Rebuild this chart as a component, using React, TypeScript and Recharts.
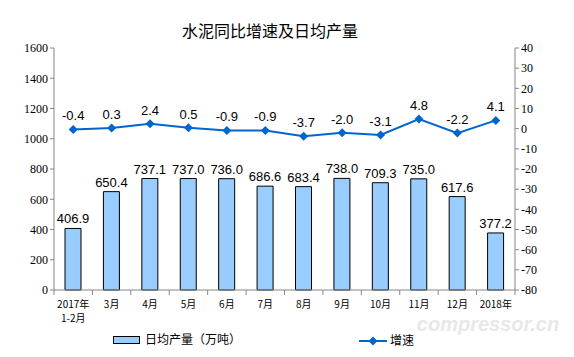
import { Bar, ComposedChart, LabelList, Line, XAxis, YAxis } from "recharts";

const categories = ["2017年\n1-2月", "3月", "4月", "5月", "6月", "7月", "8月", "9月", "10月", "11月", "12月", "2018年"];
const output = [406.9, 650.4, 737.1, 737.0, 736.0, 686.6, 683.4, 738.0, 709.3, 735.0, 617.6, 377.2];
const growth = [-0.4, 0.3, 2.4, 0.5, -0.9, -0.9, -3.7, -2.0, -3.1, 4.8, -2.2, 4.1];
const leftTicks = [0, 200, 400, 600, 800, 1000, 1200, 1400, 1600];
const rightTicks = [-80, -70, -60, -50, -40, -30, -20, -10, 0, 10, 20, 30, 40];

const data = categories.map((name, i) => ({ name, output: output[i], growth: growth[i] }));

const W = 574;
const H = 357;
const LEFT = 54;
const RIGHT = 59;
const STEP = (W - LEFT - RIGHT) / categories.length;
const AXIS = "#868686";
const serif = "'Liberation Serif', 'Times New Roman', serif";
const sans = "'Liberation Sans', Arial, sans-serif";
const cjk = "'Noto Sans CJK SC', sans-serif";

function CategoryTick(props: any) {
  const { x, y, payload, index } = props;
  const lines = String(payload.value).split("\n");
  const half = STEP / 2;
  return (
    <g>
      <line x1={x - half} x2={x - half} y1={y - 8} y2={y - 3} stroke={AXIS} />
      {index === categories.length - 1 && (
        <line x1={x + half} x2={x + half} y1={y - 8} y2={y - 3} stroke={AXIS} />
      )}
      {lines.map((l, i) => (
        <text key={i} x={x} y={y + 10 + i * 14} textAnchor="middle" fontSize={10} fontFamily={cjk} fill="#000">
          {l}
        </text>
      ))}
    </g>
  );
}

function Diamond(props: any) {
  const { cx, cy } = props;
  if (cx == null || cy == null) return null;
  const r = 4.5;
  return <path d={`M${cx},${cy - r}L${cx + r},${cy}L${cx},${cy + r}L${cx - r},${cy}Z`} fill="#0066cc" />;
}

export default function App() {
  return (
    <div style={{ position: "absolute", left: 0, top: 0, width: W, height: H, background: "#fff" }}>
      <div
        style={{
          position: "absolute",
          top: 20,
          left: 0,
          width: 540,
          textAlign: "center",
          fontFamily: cjk,
          fontSize: 16,
          color: "#000",
          lineHeight: "20px",
        }}
      >
        水泥同比增速及日均产量
      </div>
      <ComposedChart width={W} height={H} data={data} margin={{ top: 48, right: 0, bottom: 32, left: 0 }}>
        <XAxis
          dataKey="name"
          height={35}
          interval={0}
          stroke={AXIS}
          tickLine={false}
          tick={<CategoryTick />}
        />
        <YAxis
          yAxisId="left"
          width={LEFT}
          domain={[0, 1600]}
          ticks={leftTicks}
          stroke={AXIS}
          tickSize={4}
          tick={{ fontSize: 12, fontFamily: serif, fill: "#000" }}
        />
        <YAxis
          yAxisId="right"
          orientation="right"
          width={RIGHT}
          domain={[-80, 40]}
          ticks={rightTicks}
          stroke={AXIS}
          tickSize={4}
          tick={{ fontSize: 12, fontFamily: serif, fill: "#000" }}
        />
        <Bar yAxisId="left" dataKey="output" barSize={16} fill="#99ccff" stroke="#000" strokeWidth={1} isAnimationActive={false}>
          <LabelList dataKey="output" position="top" offset={5} fontSize={13} fontFamily={sans} fill="#000" formatter={(v: any) => Number(v).toFixed(1)} />
        </Bar>
        <Line
          yAxisId="right"
          dataKey="growth"
          stroke="#0066cc"
          strokeWidth={2}
          dot={<Diamond />}
          activeDot={false}
          isAnimationActive={false}
        >
          <LabelList dataKey="growth" position="top" offset={9} fontSize={13} fontFamily={sans} fill="#000" formatter={(v: any) => Number(v).toFixed(1)} />
        </Line>
      </ComposedChart>
      <svg style={{ position: "absolute", left: 0, top: 0 }} width={W} height={H}>
        <text x={488} y={331} textAnchor="middle" fontSize={20} fontStyle="italic" fontWeight="bold" fontFamily={sans} fill="#e8e8e8">
          compressor.cn
        </text>
        <rect x={113.5} y={336.5} width={26} height={7} fill="#99ccff" stroke="#000" />
        <text x={145} y={344} fontSize={12} fontFamily={cjk} fill="#000">日均产量（万吨）</text>
        <line x1={359} x2={387} y1={341} y2={341} stroke="#0066cc" strokeWidth={2} />
        <path d="M373,336.5L377.5,341L373,345.5L368.5,341Z" fill="#0066cc" />
        <text x={390} y={345} fontSize={12} fontFamily={cjk} fill="#000">增速</text>
      </svg>
    </div>
  );
}
